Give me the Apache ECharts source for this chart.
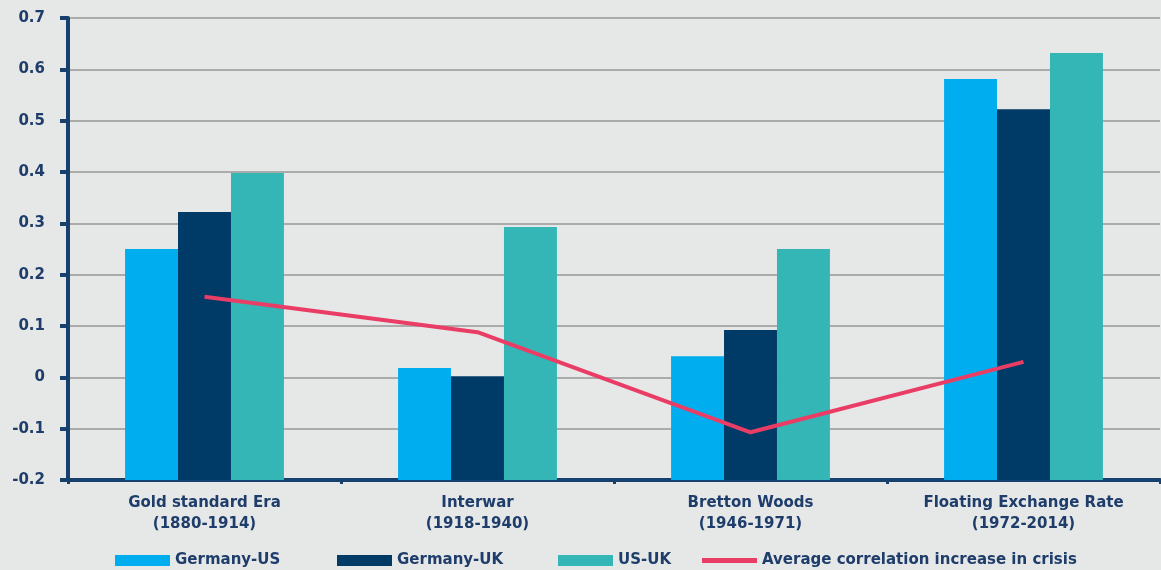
<!DOCTYPE html>
<html><head><meta charset="utf-8">
<style>html,body{margin:0;padding:0;background:#e6e7e7}#c{width:1161px;height:570px}</style>
<script src="https://cdn.jsdelivr.net/npm/echarts@6/dist/echarts.min.js"></script>
</head><body><div id="c"></div>
<script>
const categories = ['Gold standard Era\n(1880-1914)', 'Interwar\n(1918-1940)', 'Bretton Woods\n(1946-1971)', 'Floating Exchange Rate\n(1972-2014)'];
const germanyUS = [0.25, 0.018, 0.041, 0.581];
const germanyUK = [0.322, 0.002, 0.092, 0.522];
const usUK = [0.398, 0.293, 0.25, 0.632];
const avgCrisis = [0.157, 0.088, -0.107, 0.03];
const yMin = -0.2, yMax = 0.7, yStep = 0.1;

const textColor = '#1e3d6b';
const font = 'DejaVu Sans';
const chart = echarts.init(document.getElementById('c'), null, {renderer: 'canvas'});
function leg(name, left, h) {
  return {left: left, top: 548, itemWidth: 55, itemHeight: h, icon: 'rect', data: [name],
    textStyle: {color: textColor, fontFamily: font, fontWeight: 'bold', fontSize: 15}, itemGap: 0};
}
// bars rise from the bottom of the axis (yMin): transparent base + visible part, stacked
function barPair(name, values, color) {
  return [
    {name: name + '_base', type: 'bar', stack: name, stackStrategy: 'all', data: values.map(() => yMin),
      itemStyle: {color: 'transparent'}, silent: true, barGap: '0%', barCategoryGap: '41.8%'},
    {name: name, type: 'bar', stack: name, stackStrategy: 'all', data: values.map(v => v - yMin),
      itemStyle: {color: color}, barGap: '0%', barCategoryGap: '41.8%'}
  ];
}
chart.setOption({
  backgroundColor: '#e6e7e7',
  animation: false,
  grid: {left: 68, right: 1, top: 18, bottom: 90},
  legend: [
    leg('Germany-US', 110, 11),
    leg('Germany-UK', 332, 11),
    leg('US-UK', 553, 11),
    leg('Average correlation increase in crisis', 697, 5)
  ],
  xAxis: {
    type: 'category', data: categories, boundaryGap: true,
    axisLine: {onZero: false, lineStyle: {color: '#17406e', width: 4}},
    axisTick: {show: true, length: 4, lineStyle: {color: '#17406e', width: 3}},
    axisLabel: {color: textColor, fontFamily: font, fontWeight: 'bold', fontSize: 15, lineHeight: 21, margin: 13}
  },
  yAxis: {
    type: 'value', min: yMin, max: yMax, interval: yStep,
    axisLine: {show: true, onZero: false, lineStyle: {color: '#17406e', width: 4}},
    axisTick: {show: true, length: 8, lineStyle: {color: '#17406e', width: 4}},
    splitLine: {lineStyle: {color: '#ababab', width: 2}},
    axisLabel: {color: textColor, fontFamily: font, fontWeight: 'bold', fontSize: 15, margin: 23,
      formatter: v => { const r = Math.round(v * 10) / 10; return r === 0 ? '0' : String(r); }}
  },
  series: [
    ...barPair('Germany-US', germanyUS, '#00aeef'),
    ...barPair('Germany-UK', germanyUK, '#003a66'),
    ...barPair('US-UK', usUK, '#35b6b6'),
    {name: 'Average correlation increase in crisis', type: 'line', data: avgCrisis, symbol: 'none',
      lineStyle: {color: '#ea3d66', width: 4}, itemStyle: {color: '#ea3d66'}, z: 5}
  ]
});
</script></body></html>
